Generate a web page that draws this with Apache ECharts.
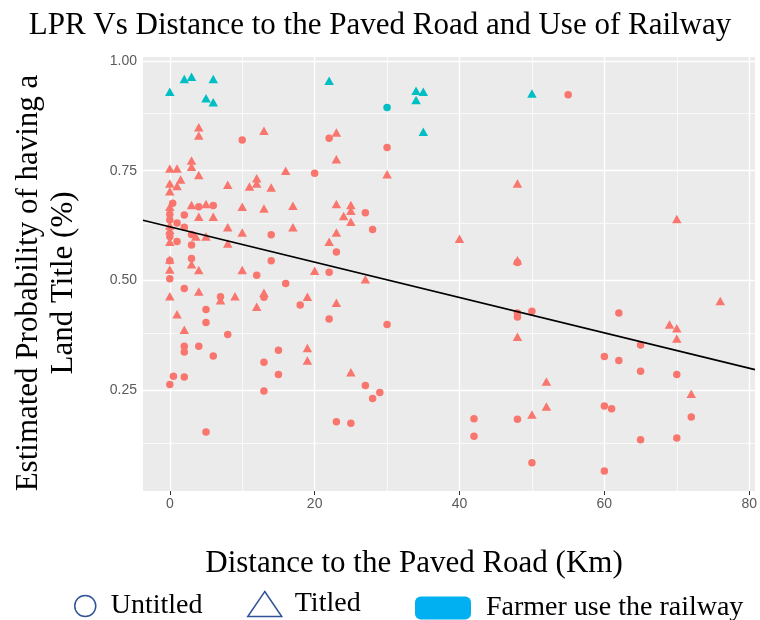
<!DOCTYPE html>
<html>
<head>
<meta charset="utf-8">
<script src="https://cdn.jsdelivr.net/npm/echarts@6/dist/echarts.min.js"></script>
<style>html,body{margin:0;padding:0;background:#fff;}#c{width:760px;height:620px;}</style>
</head>
<body>
<div id="c"></div>
<script>
// Untitled farmers, not using railway (red circles): [distance km, probability]
const untitledNoRail = [
  [10,0.820],[22,0.824],[20,0.744],[0.4,0.676],[4,0.668],[6,0.671],[0,0.651],[0,0.638],[2,0.649],[1,0.631],
  [2,0.621],[3,0.605],[0,0.600],[1,0.589],[3,0.581],[3,0.550],[0,0.545],[0,0.504],[14,0.604],[23,0.565],
  [14,0.545],[12,0.512],[22,0.519],[16,0.493],[2,0.482],[7,0.463],[13,0.462],[18,0.444],[5,0.434],[5,0.404],
  [22,0.412],[8,0.377],[2,0.350],[4,0.350],[15,0.341],[2,0.337],[6,0.328],[13,0.314],[15,0.286],[0.5,0.282],
  [2,0.280],[0,0.263],[13,0.248],[5,0.155],[23,0.178],[30,0.803],[27,0.654],[28,0.616],[48,0.541],[30,0.400],
  [27,0.261],[29,0.245],[28,0.231],[25,0.175],[48,0.426],[48,0.417],[50,0.430],[42,0.185],[42,0.145],[48,0.184],
  [50,0.085],[55,0.923],[62,0.426],[65,0.353],[60,0.327],[62,0.318],[65,0.293],[70,0.286],[60,0.214],[61,0.208],
  [72,0.189],[65,0.137],[70,0.141],[60,0.066]
];
// Titled farmers, not using railway (red triangles)
const titledNoRail = [
  [4,0.849],[4,0.830],[13,0.841],[23,0.837],[3,0.773],[3,0.759],[23,0.776],[0,0.755],[1,0.755],[4,0.740],
  [16,0.750],[0,0.721],[1.5,0.730],[1,0.715],[0,0.703],[8,0.718],[11,0.714],[12,0.733],[12,0.721],[14,0.712],
  [0,0.668],[3,0.672],[5,0.674],[10,0.668],[13,0.664],[17,0.670],[23,0.674],[24,0.647],[4,0.645],[6,0.645],
  [0,0.625],[0,0.615],[8,0.621],[10,0.609],[3.6,0.600],[5,0.600],[0,0.588],[8,0.584],[17,0.621],[23,0.609],
  [22,0.588],[3,0.537],[0,0.525],[4,0.524],[10,0.524],[20,0.522],[0,0.548],[0,0.464],[4,0.475],[7,0.455],
  [9,0.464],[13,0.472],[19,0.463],[23,0.449],[12,0.440],[1,0.423],[2,0.388],[19,0.346],[19,0.318],[25,0.291],
  [30,0.742],[48,0.721],[25,0.672],[25,0.659],[25,0.634],[40,0.595],[48,0.546],[27,0.503],[48,0.372],[50,0.195],
  [52,0.270],[52,0.213],[70,0.640],[76,0.453],[69,0.400],[70,0.391],[70,0.368],[72,0.242]
];
// Farmers using the railway (cyan)
const titledRail = [
  [0,0.930],[2,0.959],[3,0.964],[6,0.959],[5,0.915],[6,0.906],[22,0.955],[34,0.932],[35,0.930],[34,0.911],
  [35,0.839],[50,0.926]
];
const untitledRail = [[30,0.894]];
// Fitted linear trend (endpoints across the panel)
const fitX = [-3.7, 80.8];
const fitY = [0.637, 0.297];
// Axis ticks
const xTicks = [0, 20, 40, 60, 80];
const xMinor = [10, 30, 50, 70];
const yTicks = [0.25, 0.50, 0.75, 1.00];
const yMinor = [0.125, 0.375, 0.625, 0.875];

const RED = '#F8766D', CYAN = '#00BFC4';
const serif = 'Liberation Serif';
const fitData = fitX.map((x, i) => [x, fitY[i]]);

const gridLines = [];
yTicks.forEach(v => gridLines.push({yAxis: v, lineStyle: {width: 1.4}}));
yMinor.forEach(v => gridLines.push({yAxis: v, lineStyle: {width: 0.7}}));
xTicks.forEach(v => gridLines.push({xAxis: v, lineStyle: {width: 1.4}}));
xMinor.forEach(v => gridLines.push({xAxis: v, lineStyle: {width: 0.7}}));

const chart = echarts.init(document.getElementById('c'), null, {renderer: 'canvas'});
chart.setOption({
  animation: false,
  backgroundColor: '#ffffff',
  title: {
    text: 'LPR Vs Distance to the Paved Road and Use of Railway',
    left: 'center', top: 5,
    textStyle: {fontFamily: serif, fontSize: 31, fontWeight: 'normal', color: '#000'}
  },
  grid: {left: 143, right: 2, top: 57, bottom: 129, show: true, backgroundColor: '#EBEBEB', borderWidth: 0},
  xAxis: {
    type: 'value', min: -3.7, max: 80.8,
    name: 'Distance to the Paved Road (Km)', nameLocation: 'middle', nameGap: 57,
    nameTextStyle: {fontFamily: serif, fontSize: 31, color: '#000', padding: [0, 70, 0, 0]},
    axisLine: {show: false},
    axisTick: {show: true, length: 4, customValues: xTicks, lineStyle: {color: '#333', width: 1}},
    axisLabel: {customValues: xTicks, margin: 6, fontFamily: 'Liberation Sans', fontSize: 14, color: '#5a5a5a'},
    splitLine: {show: false}
  },
  yAxis: {
    type: 'value', min: 0.0205, max: 1.009,
    name: 'Estimated Probability of having a\nLand Title (%)', nameLocation: 'middle', nameGap: 62, nameRotate: 90,
    nameTextStyle: {fontFamily: serif, fontSize: 31, color: '#000', lineHeight: 35, align: 'center',
      padding: [0, 18, 0, 0]},
    axisLine: {show: false},
    axisTick: {show: true, length: 4, customValues: yTicks, lineStyle: {color: '#333', width: 1}},
    axisLabel: {customValues: yTicks, margin: 6, fontFamily: 'Liberation Sans', fontSize: 14, color: '#5a5a5a',
      formatter: v => v.toFixed(2)},
    splitLine: {show: false}
  },
  legend: [
    {left: 74, top: 592, padding: 0, selectedMode: false, itemWidth: 21, itemHeight: 25,
     textStyle: {fontFamily: serif, fontSize: 28, color: '#000', padding: [0, 0, 0, 10]},
     data: [{name: 'Untitled', icon: 'path://M50,0 A50,50 0 1,1 50,100 A50,50 0 1,1 50,0 Z',
             itemStyle: {color: 'rgba(0,0,0,0)', borderColor: '#2F5496', borderWidth: 1.5}}]},
    {left: 247, top: 590, padding: 0, selectedMode: false, itemWidth: 34, itemHeight: 25,
     textStyle: {fontFamily: serif, fontSize: 28, color: '#000', padding: [3, 0, 0, 8]},
     data: [{name: 'Titled', icon: 'triangle',
             itemStyle: {color: 'rgba(0,0,0,0)', borderColor: '#2F5496', borderWidth: 1.5}}]},
    {left: 415, top: 594, padding: 0, selectedMode: false, itemWidth: 56, itemHeight: 23,
     textStyle: {fontFamily: serif, fontSize: 28, color: '#000', padding: [0, 0, 0, 10]},
     data: [{name: 'Farmer use the railway', icon: 'roundRect',
             itemStyle: {color: '#00B0F0', borderWidth: 0}}]}
  ],
  series: [
    {name: 'grid', type: 'line', data: [], z: 1, silent: true,
     markLine: {silent: true, z: 1, symbol: 'none', label: {show: false}, animation: false,
       lineStyle: {color: '#FFFFFF', type: 'solid'}, data: gridLines}},
    {name: 'Untitled', type: 'scatter', data: untitledNoRail, symbol: 'circle', symbolSize: 7.5, z: 2,
     itemStyle: {color: RED, opacity: 1}},
    {name: 'Titled', type: 'scatter', data: titledNoRail, symbol: 'triangle', symbolSize: [9.5, 8.5], z: 2,
     itemStyle: {color: RED, opacity: 1}},
    {name: 'Farmer use the railway', type: 'scatter', data: untitledRail, symbol: 'circle', symbolSize: 7.5, z: 2,
     itemStyle: {color: CYAN, opacity: 1}},
    {name: 'Farmer use the railway', type: 'scatter', data: titledRail, symbol: 'triangle', symbolSize: [9.5, 8.5], z: 2,
     itemStyle: {color: CYAN, opacity: 1}},
    {name: 'fit', type: 'line', data: fitData, showSymbol: false, symbol: 'none', z: 3, silent: true,
     lineStyle: {color: '#000', width: 1.6}}
  ]
});
</script>
</body>
</html>
